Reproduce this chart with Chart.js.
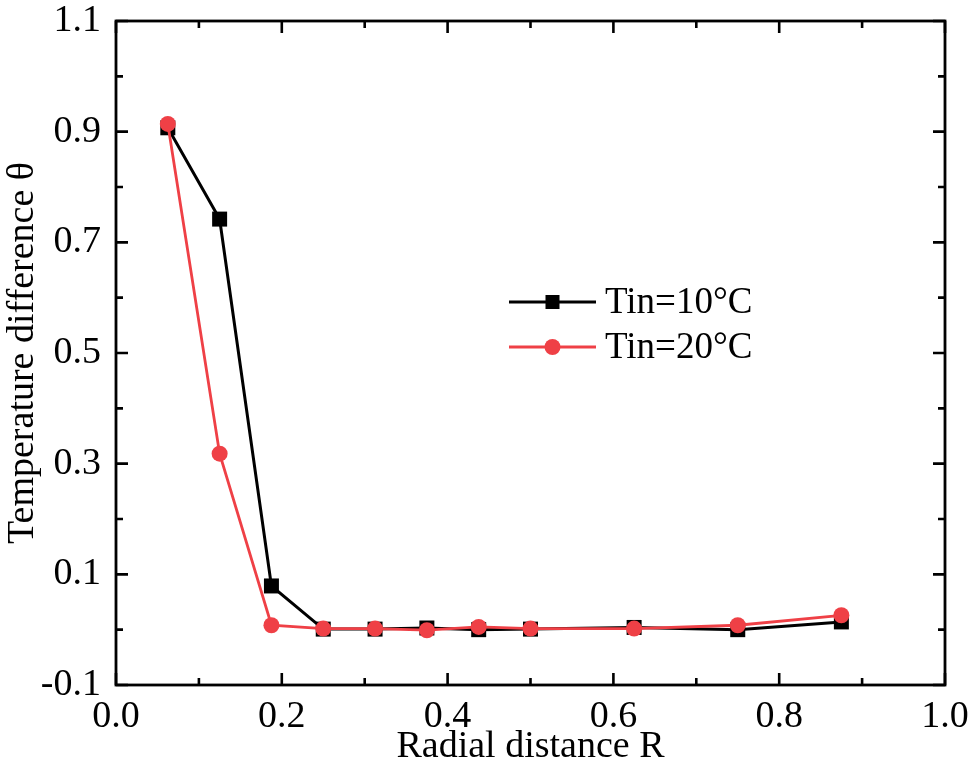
<!DOCTYPE html>
<html>
<head>
<meta charset="utf-8">
<script src="https://cdn.jsdelivr.net/npm/chart.js@4.4.1/dist/chart.umd.min.js"></script>
<style>
html,body{margin:0;padding:0;background:#fff;}
#wrap{width:969px;height:774px;}
</style>
</head>
<body>
<div id="wrap"><canvas id="c" width="969" height="774"></canvas></div>
<script>
const radialR = [0.0625, 0.125, 0.1875, 0.25, 0.3125, 0.375, 0.4375, 0.5, 0.625, 0.75, 0.875];
const theta10 = [0.907, 0.742, 0.079, 0.001, 0.001, 0.003, 0.000, 0.001, 0.004, 0.000, 0.014];
const theta20 = [0.914, 0.318, 0.008, 0.002, 0.002, -0.001, 0.005, 0.002, 0.002, 0.008, 0.026];
const xTicks = [0.0, 0.2, 0.4, 0.6, 0.8, 1.0];
const yTicks = [-0.1, 0.1, 0.3, 0.5, 0.7, 0.9, 1.1];
const xMinor = [0.1, 0.3, 0.5, 0.7, 0.9];
const yMinor = [0.0, 0.2, 0.4, 0.6, 0.8, 1.0];
const labels = ['Tin=10°C', 'Tin=20°C'];

const FONT = "'Liberation Serif', 'Times New Roman', serif";
const RED = '#EF4046';

const frameTicks = {
  id: 'frameTicks',
  afterDatasetsDraw(chart) {
    const ctx = chart.ctx;
    const a = chart.chartArea;
    const xs = chart.scales.x, ys = chart.scales.y;
    ctx.save();
    ctx.strokeStyle = '#000';
    ctx.lineWidth = 2.6;
    ctx.lineCap = 'butt';
    const major = 12, minor = 7;
    function vt(v, len) {
      const px = xs.getPixelForValue(v);
      ctx.beginPath();
      ctx.moveTo(px, a.bottom); ctx.lineTo(px, a.bottom - len);
      ctx.moveTo(px, a.top); ctx.lineTo(px, a.top + len);
      ctx.stroke();
    }
    function ht(v, len) {
      const py = ys.getPixelForValue(v);
      ctx.beginPath();
      ctx.moveTo(a.left, py); ctx.lineTo(a.left + len, py);
      ctx.moveTo(a.right, py); ctx.lineTo(a.right - len, py);
      ctx.stroke();
    }
    xTicks.forEach(v => vt(v, major));
    xMinor.forEach(v => vt(v, minor));
    yTicks.forEach(v => ht(v, major));
    yMinor.forEach(v => ht(v, minor));
    ctx.lineWidth = 2.8;
    ctx.strokeRect(a.left, a.top, a.right - a.left, a.bottom - a.top);
    ctx.restore();

    // legend
    ctx.save();
    const lx0 = 509, lx1 = 596;
    const ty = 302;
    const rowGap = 45;
    chart.data.datasets.forEach((ds, i) => {
      const y = ty + i * rowGap;
      ctx.strokeStyle = ds.borderColor;
      ctx.lineWidth = 2.8;
      ctx.beginPath();
      ctx.moveTo(lx0, y); ctx.lineTo(lx1, y); ctx.stroke();
      const mx = (lx0 + lx1) / 2;
      ctx.fillStyle = ds.pointBackgroundColor;
      if (ds.pointStyle === 'rect') {
        ctx.fillRect(mx - 7, y - 7, 14, 14);
      } else {
        ctx.beginPath(); ctx.arc(mx, y, 8, 0, Math.PI * 2); ctx.fill();
      }
      ctx.fillStyle = '#000';
      ctx.font = '37px ' + FONT;
      ctx.textBaseline = 'middle';
      ctx.textAlign = 'left';
      ctx.fillText(ds.label, lx1 + 9, y + 1);
    });
    ctx.restore();
  }
};

new Chart(document.getElementById('c'), {
  type: 'line',
  data: {
    datasets: [
      {
        label: labels[0],
        data: radialR.map((x, i) => ({x, y: theta10[i]})),
        borderColor: '#000',
        backgroundColor: '#000',
        pointBackgroundColor: '#000',
        pointBorderColor: '#000',
        pointStyle: 'rect',
        pointRadius: 10.6,
        pointBorderWidth: 0,
        borderWidth: 3,
        tension: 0,
        order: 1
      },
      {
        label: labels[1],
        data: radialR.map((x, i) => ({x, y: theta20[i]})),
        borderColor: RED,
        backgroundColor: RED,
        pointBackgroundColor: RED,
        pointBorderColor: RED,
        pointStyle: 'circle',
        pointRadius: 8,
        pointBorderWidth: 0,
        borderWidth: 2.8,
        tension: 0,
        order: 0
      }
    ]
  },
  options: {
    responsive: false,
    animation: false,
    devicePixelRatio: 1,
    layout: { autoPadding: false, padding: { top: 21, right: 24, left: 0, bottom: 0 } },
    plugins: { legend: { display: false }, tooltip: { enabled: false } },
    scales: {
      x: {
        type: 'linear',
        min: 0, max: 1,
        afterBuildTicks: s => { s.ticks = xTicks.map(v => ({value: v})); },
        afterFit: s => { s.height = 89; s.paddingLeft = 0; s.paddingRight = 0; },
        grid: { display: false, drawTicks: false },
        border: { display: false },
        ticks: {
          color: '#000',
          font: { family: FONT, size: 38 },
          padding: 9,
          maxRotation: 0,
          callback: v => Number(v).toFixed(1)
        },
        title: {
          display: true,
          text: 'Radial distance R',
          color: '#000',
          font: { family: FONT, size: 38 },
          padding: { top: 0, bottom: 4 }
        }
      },
      y: {
        type: 'linear',
        min: -0.1, max: 1.1,
        afterBuildTicks: s => { s.ticks = yTicks.map(v => ({value: v})); },
        afterFit: s => { s.width = 116; s.paddingTop = 0; s.paddingBottom = 0; },
        grid: { display: false, drawTicks: false },
        border: { display: false },
        ticks: {
          color: '#000',
          font: { family: FONT, size: 38 },
          padding: 15,
          callback: v => Number(v).toFixed(1)
        },
        title: {
          display: true,
          text: 'Temperature difference θ',
          color: '#000',
          font: { family: FONT, size: 38 },
          padding: { top: 0, bottom: 0 }
        }
      }
    }
  },
  plugins: [frameTicks]
});
</script>
</body>
</html>
